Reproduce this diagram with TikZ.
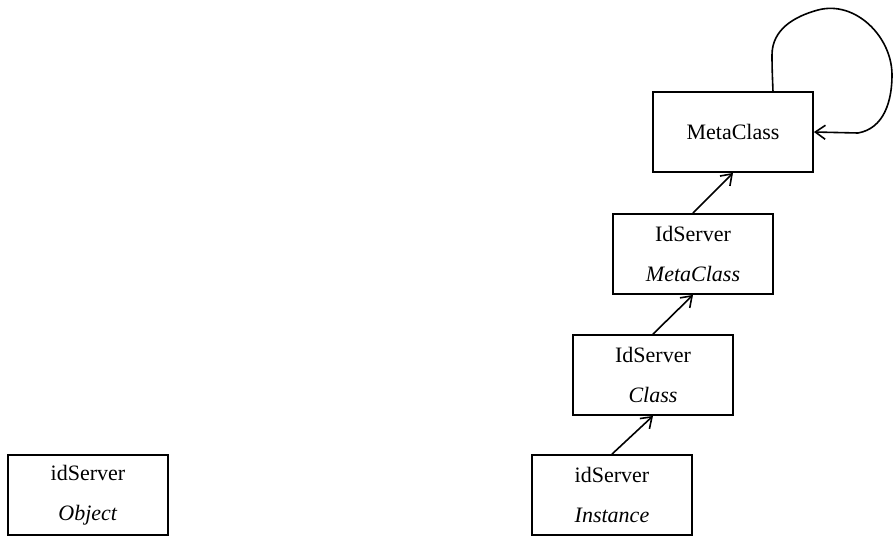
\documentclass[tikz,border=0pt]{standalone}
\usepackage{fontspec}
\setmainfont{Liberation Serif}
\usepackage{tikz}
\usetikzlibrary{arrows.meta, positioning}
\tikzset{
  objbox/.style={rectangle, draw=black, fill=white, line width=0.9pt,
                 minimum width=80pt, minimum height=40pt, align=center,
                 font=\fontsize{11}{20}\selectfont},
  arrow/.style={-{Straight Barb[length=5pt,width=7pt]}, draw=black, line width=0.8pt},
}

\begin{document}
\begin{tikzpicture}[x=0.5pt, y=0.5pt]
  \useasboundingbox (0,0) rectangle (894,537);

  % Meta level
  \node[objbox] (meta) at (733,405) {MetaClass};
  \node[objbox] (idmeta) at (693,283) {IdServer\\\textit{MetaClass}};

  % Class level
  \node[objbox] (idclass) at (653,162) {IdServer\\\textit{Class}};

  % Instance level
  \node[objbox] (idinst) at (612,42) {idServer\\\textit{Instance}};
  \node[objbox] (idobj) at (88,42) {idServer\\\textit{Object}};

  % Edges
  \draw[arrow] (idinst.north) -- (idclass.south);
  \draw[arrow] (idclass.north) -- (idmeta.south);
  \draw[arrow] (idmeta.north) -- (meta.south);

  % Self loop
  \coordinate (loopstart) at (773,445);
  \draw[arrow] (loopstart) to[out=92,in=-90] (772,482)
    to[out=90,in=195] (818,527) to[out=15,in=90] (892,462)
    to[out=-90,in=10] (858,404) -- (meta.east);

\end{tikzpicture}
\end{document}
